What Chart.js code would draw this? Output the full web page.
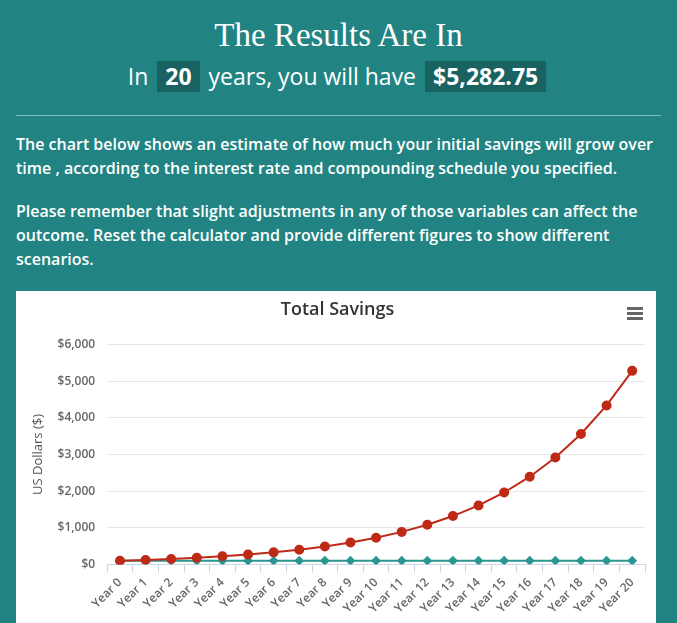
<!DOCTYPE html>
<html lang="en">
<head>
    <meta charset="UTF-8">
    <title>The Results Are In</title>
    <script src="https://cdn.jsdelivr.net/npm/chart.js"></script>
    <style>
        body {
            margin: 0;
            padding: 0;
            background-color: #218482;
            color: #fff;
            font-family: 'Open Sans', sans-serif;
            width: 677px;
            overflow: hidden;
        }

        h1 {
            font-family: 'Liberation Serif', serif;
            font-weight: normal;
            font-size: 33px;
            text-align: center;
            margin: 0;
            padding-top: 17px;
            line-height: 36px;
        }

        .summary {
            text-align: center;
            font-size: 23px;
            margin: 8px 0 0 0;
            line-height: 31px;
        }

        .summary span {
            background-color: #1a6262;
            font-weight: bold;
            padding: 0 8px;
            margin: 0 3px;
            display: inline-block;
        }

        hr {
            border: 0;
            border-top: 1px solid rgba(255, 255, 255, 0.45);
            margin: 23px 16px 0 16px;
        }

        p {
            font-size: 16px;
            font-weight: 600;
            line-height: 24px;
            margin: 16px 16px 0 16px;
        }

        p + p {
            margin-top: 19px;
        }

        .chart-box {
            position: absolute;
            left: 16px;
            top: 291px;
            width: 640px;
            height: 332px;
            background-color: #fff;
        }

        .menu {
            position: absolute;
            right: 13px;
            top: 16px;
            width: 16px;
        }

        .menu div {
            height: 3px;
            background-color: #666;
            margin-bottom: 2px;
        }
    </style>
</head>
<body>

    <h1>The Results Are In</h1>
    <div class="summary">In <span>20</span> years, you will have <span>$5,282.75</span></div>
    <hr>
    <p>The chart below shows an estimate of how much your initial savings will grow over time , according to the interest rate and compounding schedule you specified.</p>
    <p>Please remember that slight adjustments in any of those variables can affect the outcome. Reset the calculator and provide different figures to show different scenarios.</p>

    <div class="chart-box">
        <canvas id="savingsChart"></canvas>
        <div class="menu"><div></div><div></div><div></div></div>
    </div>

    <script>
        const years = ['Year 0', 'Year 1', 'Year 2', 'Year 3', 'Year 4', 'Year 5', 'Year 6',
            'Year 7', 'Year 8', 'Year 9', 'Year 10', 'Year 11', 'Year 12', 'Year 13',
            'Year 14', 'Year 15', 'Year 16', 'Year 17', 'Year 18', 'Year 19', 'Year 20'];

        const totalSavings = [100, 122, 149, 181, 221, 270, 329, 402, 490, 597, 728,
            888, 1083, 1320, 1610, 1963, 2394, 2919, 3559, 4340, 5283];

        const initialSavings = [100, 100, 100, 100, 100, 100, 100, 100, 100, 100, 100,
            100, 100, 100, 100, 100, 100, 100, 100, 100, 100];

        const yMax = 6000;
        const yStep = 1000;

        function formatDollars(value) {
            return '$' + value.toLocaleString('en-US');
        }

        const ctx = document.getElementById('savingsChart').getContext('2d');
        new Chart(ctx, {
            type: 'line',
            data: {
                labels: years,
                datasets: [
                    {
                        label: 'Total Savings',
                        data: totalSavings,
                        borderColor: '#be2a16',
                        backgroundColor: '#be2a16',
                        borderWidth: 2,
                        pointRadius: 4,
                        pointStyle: 'circle',
                        tension: 0,
                        fill: false
                    },
                    {
                        label: 'Initial Savings',
                        data: initialSavings,
                        borderColor: '#2a9792',
                        backgroundColor: '#2a9792',
                        borderWidth: 2,
                        pointRadius: 3.5,
                        pointStyle: 'rectRot',
                        fill: false
                    }
                ]
            },
            options: {
                responsive: true,
                maintainAspectRatio: false,
                animation: false,
                layout: {
                    padding: { left: 14, right: 11, top: 6, bottom: 4 }
                },
                plugins: {
                    legend: { display: false },
                    tooltip: { enabled: false },
                    title: {
                        display: true,
                        text: 'Total Savings',
                        color: '#333',
                        font: { family: 'Open Sans', size: 18, weight: '600' },
                        padding: { top: 2, bottom: 24 }
                    }
                },
                scales: {
                    x: {
                        offset: true,
                        grid: {
                            offset: true,
                            drawOnChartArea: false,
                            drawTicks: true,
                            tickLength: 8,
                            color: '#ccd6eb'
                        },
                        border: { color: '#ccd6eb' },
                        ticks: {
                            color: '#666',
                            minRotation: 45,
                            maxRotation: 45,
                            autoSkip: false,
                            font: { family: 'Open Sans', size: 12, weight: '600' }
                        }
                    },
                    y: {
                        min: 0,
                        max: yMax,
                        grid: {
                            color: '#e6e6e6',
                            drawTicks: false
                        },
                        border: { display: false },
                        ticks: {
                            stepSize: yStep,
                            padding: 12,
                            color: '#666',
                            font: { family: 'Open Sans', size: 12, weight: '600' },
                            callback: formatDollars
                        },
                        title: {
                            display: true,
                            text: 'US Dollars ($)',
                            color: '#555',
                            font: { family: 'Open Sans', size: 13 },
                            padding: { top: 0, bottom: 0 }
                        }
                    }
                }
            }
        });
    </script>
</body>
</html>
